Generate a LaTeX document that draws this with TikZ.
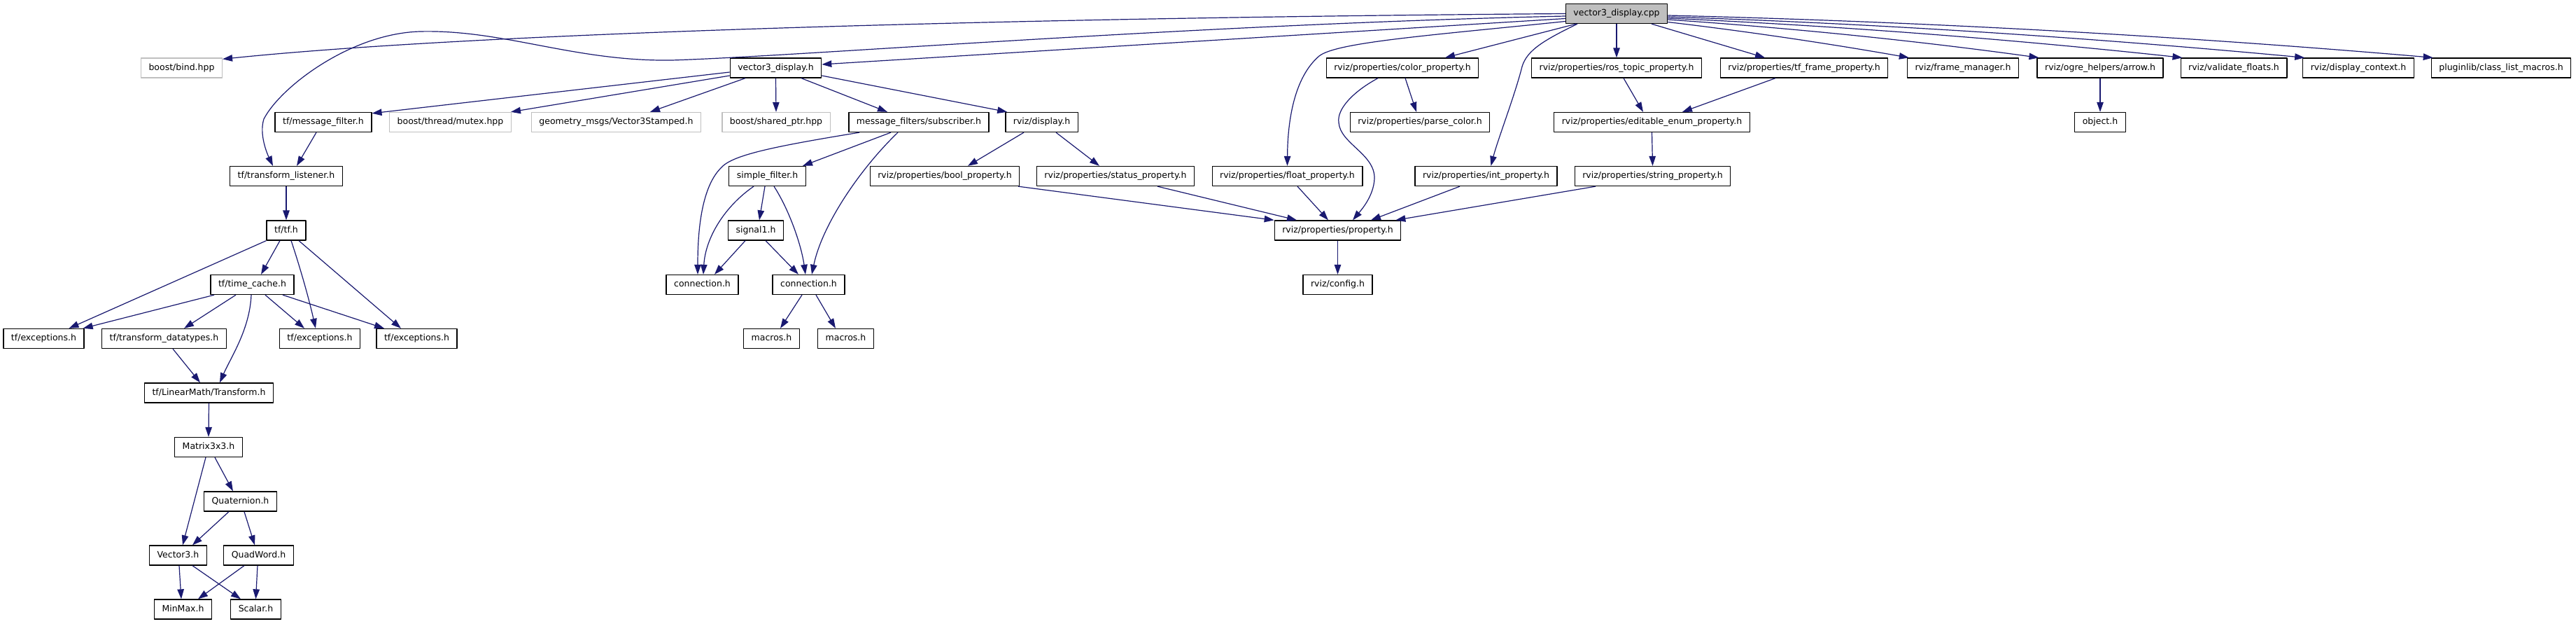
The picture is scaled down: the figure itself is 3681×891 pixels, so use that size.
\documentclass[tikz,border=0pt]{standalone}
\usepackage{fontspec}
\setmainfont{DejaVu Sans}
\usepackage{xcolor}
\definecolor{dxedge}{HTML}{191970}
\definecolor{dxgrey}{HTML}{BFBFBF}
\usepackage{tikz}
\usetikzlibrary{arrows.meta}
\tikzset{
  >={Triangle[length=14pt,width=9.5pt]},
  every picture/.style={line join=round},
  inc/.style={draw=black, fill=white, line width=1.3pt,
    font=\fontsize{12.5pt}{15pt}\selectfont, minimum height=28pt,
    inner xsep=11pt, inner ysep=0pt, text height=9.5pt, text depth=3pt},
  incext/.style={inc, draw=dxgrey},
  incroot/.style={inc, fill=dxgrey},
  dep/.style={dxedge, line width=1.2pt, ->},
}

\begin{document}
\begin{tikzpicture}[x=1pt, y=-1pt]
\path[use as bounding box, fill=white] (0,0) rectangle (3681,891);

% ------------------------------------------------------------------ files
\node[incroot] (root) at (2310,19.5) {vector3\_display.cpp};

\node[incext] (bind) at (259.5,97) {boost/bind.hpp};
\node[inc] (v3h) at (1108.5,97) {vector3\_display.h};
\node[inc] (colorp) at (2004,97) {rviz/properties/color\_property.h};
\node[inc] (rostopic) at (2310,97) {rviz/properties/ros\_topic\_property.h};
\node[inc] (tfframe) at (2578,97) {rviz/properties/tf\_frame\_property.h};
\node[inc] (framemgr) at (2805,97) {rviz/frame\_manager.h};
\node[inc] (arrowh) at (3001,97) {rviz/ogre\_helpers/arrow.h};
\node[inc] (validf) at (3192,97) {rviz/validate\_floats.h};
\node[inc] (dispctx) at (3370,97) {rviz/display\_context.h};
\node[inc] (classlist) at (3574,97) {pluginlib/class\_list\_macros.h};

\node[inc] (msgfilter) at (462,174.5) {tf/message\_filter.h};
\node[incext] (mutex) at (643.5,174.5) {boost/thread/mutex.hpp};
\node[incext] (v3stamped) at (880.5,174.5) {geometry\_msgs/Vector3Stamped.h};
\node[incext] (sharedptr) at (1109,174.5) {boost/shared\_ptr.hpp};
\node[inc] (subscriber) at (1313,174.5) {message\_filters/subscriber.h};
\node[inc] (display) at (1488.5,174.5) {rviz/display.h};
\node[inc] (parsecolor) at (2029,174.5) {rviz/properties/parse\_color.h};
\node[inc] (editenum) at (2360.5,174.5) {rviz/properties/editable\_enum\_property.h};
\node[inc] (objecth) at (3001,174.5) {object.h};

\node[inc] (tflistener) at (409,251.5) {tf/transform\_listener.h};
\node[inc] (simplefilter) at (1096.5,251.5) {simple\_filter.h};
\node[inc] (boolp) at (1350,251.5) {rviz/properties/bool\_property.h};
\node[inc] (statusp) at (1594,251.5) {rviz/properties/status\_property.h};
\node[inc] (floatp) at (1839.5,251.5) {rviz/properties/float\_property.h};
\node[inc] (intp) at (2123.5,251.5) {rviz/properties/int\_property.h};
\node[inc] (stringp) at (2361.5,251.5) {rviz/properties/string\_property.h};

\node[inc] (tfh) at (409,329) {tf/tf.h};
\node[inc] (signal) at (1080,329) {signal1.h};
\node[inc] (property) at (1911.5,329) {rviz/properties/property.h};

\node[inc] (timecache) at (360.5,406.5) {tf/time\_cache.h};
\node[inc] (connA) at (1003.5,406.5) {connection.h};
\node[inc] (connB) at (1155.5,406.5) {connection.h};
\node[inc] (config) at (1911.5,406.5) {rviz/config.h};

\node[inc] (excA) at (62.5,483.5) {tf/exceptions.h};
\node[inc] (datatypes) at (234.5,483.5) {tf/transform\_datatypes.h};
\node[inc] (excB) at (457,483.5) {tf/exceptions.h};
\node[inc] (excC) at (595.5,483.5) {tf/exceptions.h};
\node[inc] (macrosA) at (1102.5,483.5) {macros.h};
\node[inc] (macrosB) at (1208.5,483.5) {macros.h};

\node[inc] (transform) at (298.5,561) {tf/LinearMath/Transform.h};
\node[inc] (matrix) at (298,638.5) {Matrix3x3.h};
\node[inc] (quaternion) at (343.5,716) {Quaternion.h};
\node[inc] (vector3) at (254.5,793) {Vector3.h};
\node[inc] (quadword) at (369.5,793) {QuadWord.h};
\node[inc] (minmax) at (261.5,870) {MinMax.h};
\node[inc] (scalar) at (365.5,870) {Scalar.h};

% ------------------------------------------------------------------ from the .cpp
\draw[dep] (root.west) .. controls (1500,25) and (700,45) .. ([yshift=-2pt]bind.north east);
\draw[dep] ([yshift=-3.5pt]root.west) .. controls (1700,35) and (1150,80) .. (960,86)
  .. controls (820,88) and (720,42) .. (600,45)
  .. controls (500,48) and (400,125) .. (377,170)
  .. controls (370,192) and (382,220) .. ([xshift=-19pt]tflistener.north);
\draw[dep] ([yshift=-7pt]root.west) -- ([yshift=5pt]v3h.east);
\draw[dep] ([yshift=-11pt]root.west) .. controls (2050,50) and (1910,60) .. (1885,80)
  .. controls (1850,110) and (1840,170) .. (floatp.north);
\draw[dep] ([xshift=-58pt]root.south) -- ([xshift=61pt]colorp.north);
\draw[dep] ([xshift=-56pt]root.south) .. controls (2205,58) and (2182,72) .. (2175,95)
  .. controls (2165,135) and (2140,200) .. ([xshift=7pt]intp.north);
\draw[dep] (root.south) -- (rostopic.north);
\draw[dep] ([xshift=50pt]root.south) -- ([xshift=-56pt]tfframe.north);
\draw[dep] ([yshift=-12pt]root.east) .. controls (2498,45) and (2612,62) .. ([xshift=3pt]framemgr.north west);
\draw[dep] ([yshift=-8.5pt]root.east) .. controls (2560,40) and (2737,58) .. ([xshift=3pt]arrowh.north west);
\draw[dep] ([yshift=-6.5pt]root.east) .. controls (2628,37) and (2874,56) .. ([xshift=3pt]validf.north west);
\draw[dep] ([yshift=-4.5pt]root.east) .. controls (2687,34) and (2990,54) .. ([xshift=3pt]dispctx.north west);
\draw[dep] ([yshift=-2.5pt]root.east) .. controls (2747,31) and (3112,51) .. ([xshift=3pt]classlist.north west);

% ------------------------------------------------------------------ vector3_display.h
\draw[dep] ([yshift=-6pt]v3h.west) -- ([yshift=-2pt]msgfilter.north east);
\draw[dep] ([yshift=-11pt]v3h.west) -- ([xshift=-1pt]mutex.north east);
\draw[dep] ([xshift=-43.5pt]v3h.south) -- ([xshift=48.5pt]v3stamped.north);
\draw[dep] (v3h.south) -- (sharedptr.north);
\draw[dep] ([xshift=36.5pt]v3h.south) -- ([xshift=-45pt]subscriber.north);
\draw[dep] ([yshift=-11pt]v3h.east) -- ([xshift=3pt]display.north west);

% ------------------------------------------------------------------ tf
\draw[dep] ([xshift=-10pt]msgfilter.south) -- ([xshift=15pt]tflistener.north);
\draw[dep] (tflistener.south) -- (tfh.north);
\draw[dep] (tfh.south west) -- ([xshift=36pt]excA.north);
\draw[dep] ([xshift=-9pt]tfh.south) -- ([xshift=12.5pt]timecache.north);
\draw[dep] ([xshift=7pt]tfh.south) .. controls (425,370) and (440,420) .. ([xshift=-6pt]excB.north);
\draw[dep] ([xshift=18pt]tfh.south) -- ([xshift=-22.5pt]excC.north);
\draw[dep] ([xshift=-54.5pt]timecache.south) -- ([xshift=-2pt]excA.north east);
\draw[dep] ([xshift=-23.5pt]timecache.south) -- ([xshift=28.5pt]datatypes.north);
\draw[dep] ([xshift=-1.5pt]timecache.south) .. controls (357,470) and (330,510) .. ([xshift=15.5pt]transform.north);
\draw[dep] ([xshift=18.5pt]timecache.south) -- ([xshift=-22pt]excB.north);
\draw[dep] ([xshift=43.5pt]timecache.south) -- ([xshift=-46.5pt]excC.north);
\draw[dep] ([xshift=12.5pt]datatypes.south) -- ([xshift=-12.5pt]transform.north);
\draw[dep] (transform.south) -- (matrix.north);
\draw[dep] ([xshift=-4pt]matrix.south) -- ([xshift=6.5pt]vector3.north);
\draw[dep] ([xshift=9pt]matrix.south) -- ([xshift=-10.5pt]quaternion.north);
\draw[dep] ([xshift=-16.5pt]quaternion.south) -- ([xshift=20.5pt]vector3.north);
\draw[dep] ([xshift=5.5pt]quaternion.south) -- ([xshift=-5.5pt]quadword.north);
\draw[dep] ([xshift=1.5pt]vector3.south) -- ([xshift=-2.5pt]minmax.north);
\draw[dep] ([xshift=20.5pt]vector3.south) -- ([xshift=-21.5pt]scalar.north);
\draw[dep] ([xshift=-20.5pt]quadword.south) -- ([xshift=21.5pt]minmax.north);
\draw[dep] ([xshift=-1.5pt]quadword.south) -- (scalar.north);

% ------------------------------------------------------------------ message filters
\draw[dep] ([xshift=-85pt]subscriber.south) .. controls (1100,210) and (1045,222) .. (1030,240)
  .. controls (1000,270) and (997,340) .. ([xshift=-6.5pt]connA.north);
\draw[dep] ([xshift=-40pt]subscriber.south) -- ([xshift=50.5pt]simplefilter.north);
\draw[dep] ([xshift=-30pt]subscriber.south) .. controls (1230,240) and (1175,320) .. ([xshift=4.5pt]connB.north);
\draw[dep] ([xshift=-19.5pt]simplefilter.south) .. controls (1035,295) and (1008,340) .. ([xshift=1.5pt]connA.north);
\draw[dep] ([xshift=-3.5pt]simplefilter.south) -- ([xshift=5pt]signal.north);
\draw[dep] ([xshift=9.5pt]simplefilter.south) .. controls (1128,300) and (1145,350) .. ([xshift=-4.5pt]connB.north);
\draw[dep] ([xshift=-15pt]signal.south) -- ([xshift=17.5pt]connA.north);
\draw[dep] ([xshift=14pt]signal.south) -- ([xshift=-14.5pt]connB.north);
\draw[dep] ([xshift=-9.5pt]connB.south) -- ([xshift=12.5pt]macrosA.north);
\draw[dep] ([xshift=10.5pt]connB.south) -- ([xshift=-14.5pt]macrosB.north);

% ------------------------------------------------------------------ rviz properties
\draw[dep] ([xshift=-25.5pt]display.south) -- ([xshift=33pt]boolp.north);
\draw[dep] ([xshift=20.5pt]display.south) -- ([xshift=-23pt]statusp.north);
\draw[dep] ([xshift=105pt]boolp.south) -- (property.north west);
\draw[dep] ([xshift=60pt]statusp.south) -- ([xshift=-58.5pt]property.north);
\draw[dep] ([xshift=14.5pt]floatp.south) -- ([xshift=-13.5pt]property.north);
\draw[dep] ([xshift=-35pt]colorp.south) .. controls (1935,130) and (1910,155) .. (1913,175)
  .. controls (1915,205) and (1965,220) .. (1964,255)
  .. controls (1963,280) and (1945,300) .. ([xshift=21.5pt]property.north);
\draw[dep] ([xshift=-37.5pt]intp.south) -- ([xshift=47.5pt]property.north);
\draw[dep] ([xshift=-81.5pt]stringp.south) -- ([xshift=-8pt]property.north east);
\draw[dep] (property.south) -- (config.north);
\draw[dep] ([xshift=4pt]colorp.south) -- ([xshift=-5pt]parsecolor.north);
\draw[dep] ([xshift=10pt]rostopic.south) -- ([xshift=-12.5pt]editenum.north);
\draw[dep] ([xshift=-41pt]tfframe.south) -- ([xshift=43.5pt]editenum.north);
\draw[dep] (editenum.south) -- (stringp.north);
\draw[dep] (arrowh.south) -- (objecth.north);
\end{tikzpicture}
\end{document}
